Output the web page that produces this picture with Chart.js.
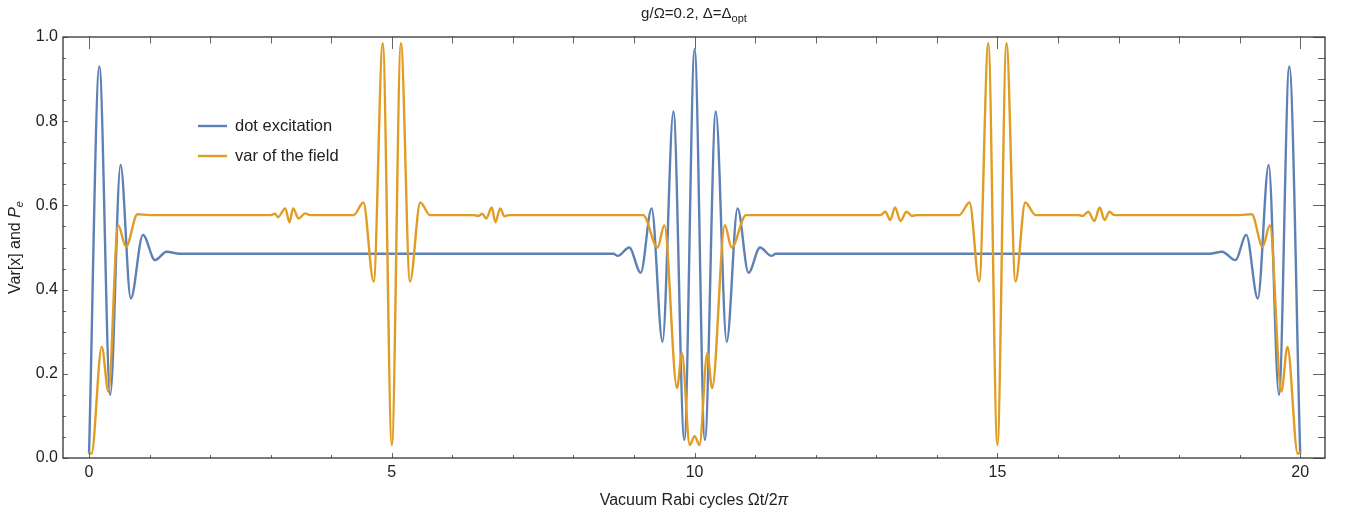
<!DOCTYPE html>
<html>
<head>
<meta charset="utf-8">
<script src="https://cdn.jsdelivr.net/npm/chart.js@4.4.1/dist/chart.umd.min.js"></script>
<style>
  html, body { margin: 0; padding: 0; background: #fff; }
  #wrap { width: 1346px; height: 517px; }
</style>
</head>
<body>
<div id="wrap"><canvas id="chart" width="1346" height="517"></canvas></div>
<script>
// values
const blueX = [0, 0.17, 0.35, 0.52, 0.69, 0.89, 1.09, 1.28, 1.5,
  8.66, 8.73, 8.92, 9.11, 9.29, 9.47, 9.65, 9.83, 10.0,
  10.17, 10.35, 10.53, 10.71, 10.89, 11.08, 11.27, 11.34,
  18.5, 18.71, 18.93, 19.11, 19.30, 19.48, 19.65, 19.82, 20.0];
const blueY = [0.01, 0.93, 0.15, 0.696, 0.379, 0.53, 0.47, 0.49, 0.485,
  0.485, 0.48, 0.50, 0.44, 0.593, 0.276, 0.823, 0.043, 0.971,
  0.043, 0.823, 0.276, 0.593, 0.44, 0.50, 0.48, 0.485,
  0.485, 0.49, 0.47, 0.53, 0.379, 0.696, 0.15, 0.93, 0.01];

const orangeX = [0, 0.04, 0.21, 0.32, 0.48, 0.61, 0.8, 1.0,
  3.0, 3.07, 3.12, 3.24, 3.31, 3.37, 3.46, 3.57, 3.65,
  4.37, 4.53, 4.70, 4.85, 5.0, 5.15, 5.30, 5.47, 5.63,
  6.35, 6.43, 6.49, 6.56, 6.65, 6.71, 6.79, 6.86, 6.93,
  9.15, 9.39, 9.50, 9.71, 9.79, 9.92, 10.0, 10.08, 10.21, 10.29, 10.50, 10.61, 10.85,
  13.07, 13.15, 13.23, 13.31, 13.40, 13.50, 13.59, 13.66,
  14.37, 14.54, 14.70, 14.85, 15.0, 15.15, 15.30, 15.46, 15.63,
  16.34, 16.41, 16.50, 16.60, 16.69, 16.77, 16.85, 16.93,
  19.0, 19.2, 19.38, 19.50, 19.69, 19.79, 19.96, 20.0];
const orangeY = [0.015, 0.01, 0.264, 0.158, 0.553, 0.502, 0.579, 0.577,
  0.577, 0.580, 0.572, 0.593, 0.560, 0.593, 0.569, 0.581, 0.577,
  0.577, 0.607, 0.419, 0.985, 0.031, 0.985, 0.419, 0.607, 0.577,
  0.577, 0.575, 0.580, 0.569, 0.595, 0.560, 0.593, 0.574, 0.577,
  0.577, 0.50, 0.553, 0.166, 0.249, 0.031, 0.052, 0.031, 0.249, 0.166, 0.553, 0.50, 0.577,
  0.577, 0.585, 0.565, 0.595, 0.563, 0.585, 0.575, 0.577,
  0.577, 0.607, 0.419, 0.985, 0.031, 0.985, 0.419, 0.607, 0.577,
  0.577, 0.575, 0.585, 0.563, 0.595, 0.565, 0.585, 0.577,
  0.577, 0.579, 0.502, 0.553, 0.158, 0.264, 0.01, 0.015];

const xTickValues = [0, 5, 10, 15, 20];
const seriesNames = ['dot excitation', 'var of the field'];

const BLUE = '#5E81B5';
const ORANGE = '#E19C24';
const FONT = '"Liberation Sans", Arial, sans-serif';

function toPoints(xs, ys) {
  return xs.map((x, i) => ({ x, y: ys[i] }));
}

// frame, Mathematica-style inner ticks, titles and legend
const decorations = {
  id: 'decorations',
  afterDraw(chart) {
    const { ctx, chartArea: a, scales } = chart;
    const xs = scales.x, ys = scales.y;
    ctx.save();

    ctx.strokeStyle = '#666';
    ctx.lineWidth = 1;
    ctx.beginPath();
    for (let v = 0; v <= 20; v++) {
      const px = Math.round(xs.getPixelForValue(v)) + 0.5;
      const major = v % 5 === 0;
      ctx.moveTo(px, a.bottom); ctx.lineTo(px, a.bottom - (major ? 5 : 3));
      ctx.moveTo(px, a.top); ctx.lineTo(px, a.top + (major ? 12 : 6.5));
    }
    for (let k = 0; k <= 20; k++) {
      const py = Math.round(ys.getPixelForValue(k * 0.05)) + 0.5;
      const major = k % 4 === 0;
      ctx.moveTo(a.left, py); ctx.lineTo(a.left + (major ? 5 : 3), py);
      ctx.moveTo(a.right, py); ctx.lineTo(a.right - (major ? 12 : 7), py);
    }
    ctx.stroke();

    ctx.strokeStyle = '#333';
    ctx.lineWidth = 1.3;
    ctx.strokeRect(a.left, a.top, a.right - a.left, a.bottom - a.top);

    const cx = (a.left + a.right) / 2;
    ctx.fillStyle = '#222';
    ctx.textBaseline = 'alphabetic';

    // title with subscript
    ctx.font = `15px ${FONT}`;
    const t1 = 'g/\u03A9=0.2, \u0394=\u0394';
    const w1 = ctx.measureText(t1).width;
    ctx.font = `11px ${FONT}`;
    const w2 = ctx.measureText('opt').width;
    let tx = cx - (w1 + w2) / 2;
    ctx.font = `15px ${FONT}`;
    ctx.textAlign = 'left';
    ctx.fillText(t1, tx, 18);
    ctx.font = `11px ${FONT}`;
    ctx.fillText('opt', tx + w1, 22);

    // x axis title
    ctx.font = `16px ${FONT}`;
    const xt = 'Vacuum Rabi cycles \u03A9t/2';
    const wx = ctx.measureText(xt).width;
    ctx.font = `italic 16px ${FONT}`;
    const wpi = ctx.measureText('\u03C0').width;
    let xx = cx - (wx + wpi) / 2;
    ctx.font = `16px ${FONT}`;
    ctx.fillText(xt, xx, 505);
    ctx.font = `italic 16px ${FONT}`;
    ctx.fillText('\u03C0', xx + wx, 505);

    // y axis title, rotated
    ctx.save();
    ctx.translate(20, (a.top + a.bottom) / 2);
    ctx.rotate(-Math.PI / 2);
    ctx.font = `16px ${FONT}`;
    const yt = 'Var[x] and ';
    const wy = ctx.measureText(yt).width;
    ctx.font = `italic 16px ${FONT}`;
    const wp = ctx.measureText('P').width;
    ctx.font = `italic 11px ${FONT}`;
    const we = ctx.measureText('e').width;
    let yx = -(wy + wp + we) / 2;
    ctx.font = `16px ${FONT}`;
    ctx.fillText(yt, yx, 0);
    ctx.font = `italic 16px ${FONT}`;
    ctx.fillText('P', yx + wy, 0);
    ctx.font = `italic 11px ${FONT}`;
    ctx.fillText('e', yx + wy + wp, 3);
    ctx.restore();

    // legend
    const colors = [BLUE, ORANGE];
    ctx.font = `16.5px ${FONT}`;
    ctx.textBaseline = 'middle';
    seriesNames.forEach((name, i) => {
      const ly = 126 + i * 30;
      ctx.strokeStyle = colors[i];
      ctx.lineWidth = 2.4;
      ctx.beginPath();
      ctx.moveTo(198, ly); ctx.lineTo(227, ly);
      ctx.stroke();
      ctx.fillStyle = '#222';
      ctx.fillText(name, 235, ly);
    });

    ctx.restore();
  }
};

new Chart(document.getElementById('chart'), {
  type: 'line',
  data: {
    datasets: [
      {
        label: seriesNames[0],
        data: toPoints(blueX, blueY),
        borderColor: BLUE,
        borderWidth: 2.4,
        pointRadius: 0,
        cubicInterpolationMode: 'monotone',
        fill: false,
        order: 1
      },
      {
        label: seriesNames[1],
        data: toPoints(orangeX, orangeY),
        borderColor: ORANGE,
        borderWidth: 2.4,
        pointRadius: 0,
        cubicInterpolationMode: 'monotone',
        fill: false,
        order: 0
      }
    ]
  },
  options: {
    responsive: false,
    animation: false,
    devicePixelRatio: 1,
    clip: false,
    layout: { padding: { top: 37, right: 21, left: 0, bottom: 0 } },
    plugins: {
      legend: { display: false },
      tooltip: { enabled: false }
    },
    scales: {
      x: {
        type: 'linear',
        min: -0.43,
        max: 20.41,
        afterBuildTicks(scale) {
          scale.ticks = xTickValues.map(v => ({ value: v }));
        },
        afterFit(scale) { scale.height = 59; },
        grid: { display: false, drawTicks: false },
        border: { display: false },
        ticks: {
          padding: 5,
          maxRotation: 0,
          color: '#222',
          font: { family: FONT, size: 16 },
          callback: v => String(v)
        }
      },
      y: {
        min: 0,
        max: 1,
        afterFit(scale) { scale.width = 63; },
        grid: { display: false, drawTicks: false },
        border: { display: false },
        ticks: {
          stepSize: 0.2,
          padding: 5,
          color: '#222',
          font: { family: FONT, size: 16 },
          callback: v => v.toFixed(1)
        }
      }
    }
  },
  plugins: [decorations]
});
</script>
</body>
</html>
